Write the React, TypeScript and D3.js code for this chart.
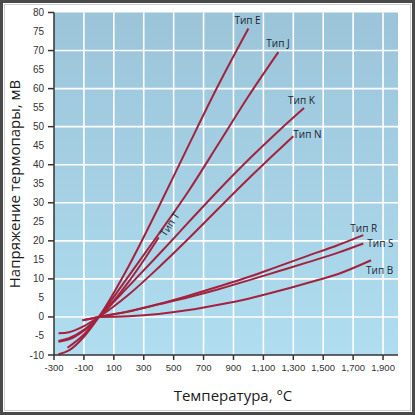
import React from "react";
import * as d3 from "d3";

const xTicks = [-300, -100, 100, 300, 500, 700, 900, 1100, 1300, 1500, 1700, 1900];
const yLabels = [80, 75, 70, 65, 60, 55, 50, 45, 40, 35, 30, 25, 20, 15, 10, 5, 0, -5, -10];
const yMajor = [80, 70, 60, 50, 40, 30, 20, 10, 0, -10];

const tempE = [-270, -200, -100, 0, 200, 400, 600, 800, 1000];
const voltE = [-9.8, -8.8, -5.2, 0, 13.4, 28.9, 45.1, 61.0, 75.8];
const tempJ = [-210, -100, 0, 200, 400, 600, 800, 1000, 1200];
const voltJ = [-8.1, -4.6, 0, 10.8, 21.8, 33.1, 45.5, 58.0, 69.6];
const tempK = [-270, -200, -100, 0, 200, 400, 600, 800, 1000, 1200, 1372];
const voltK = [-6.5, -5.9, -3.6, 0, 8.1, 16.4, 24.9, 33.3, 41.3, 48.8, 54.9];
const tempN = [-270, -200, -100, 0, 200, 400, 600, 800, 1000, 1200, 1300];
const voltN = [-4.3, -4.0, -2.4, 0, 5.9, 13.0, 20.6, 28.5, 36.3, 43.8, 47.5];
const tempT = [-270, -200, -100, 0, 100, 200, 300, 400];
const voltT = [-6.3, -5.6, -3.4, 0, 4.3, 9.3, 14.9, 20.9];
const tempR = [-110, 0, 200, 400, 600, 800, 1000, 1200, 1400, 1600, 1768];
const voltR = [-0.9, 0, 1.5, 3.4, 5.6, 8.0, 10.5, 13.3, 16.1, 18.9, 21.5];
const tempS = [-110, 0, 200, 400, 600, 800, 1000, 1200, 1400, 1600, 1768];
const voltS = [-0.9, 0, 1.4, 3.3, 5.2, 7.3, 9.6, 12.0, 14.4, 16.9, 19.3];
const tempB = [0, 200, 400, 600, 800, 1000, 1200, 1400, 1600, 1820];
const voltB = [0, 0.2, 0.8, 1.8, 3.2, 4.8, 6.8, 9.0, 11.3, 14.9];

const seriesNames = ["Тип E", "Тип J", "Тип K", "Тип N", "Тип T", "Тип R", "Тип S", "Тип B"];
const seriesTemps = [tempE, tempJ, tempK, tempN, tempT, tempR, tempS, tempB];
const seriesVolts = [voltE, voltJ, voltK, voltN, voltT, voltR, voltS, voltB];
// label offsets relative to line end (dx, dy) in px
const labelOffsets: [number, number][] = [
  [-14, -4], [-12, -5], [-16, -4], [0, 2], [0, 0], [-13, -3], [4, 4], [-5, 13.5],
];

const W = 415, H = 415;
const left = 54, right = 398, top = 12.5, bottom = 355;

export default function App() {
  const x = d3.scaleLinear().domain([-300, 2000]).range([left, right]);
  const y = d3.scaleLinear().domain([-10, 80]).range([bottom, top]);
  const line = d3
    .line<[number, number]>()
    .x((d) => x(d[0]))
    .y((d) => y(d[1]))
    .curve(d3.curveMonotoneX);
  const fmt = d3.format(",");
  const labelFont = "'Open Sans', 'Noto Sans', sans-serif";
  const tickFont = "'Liberation Sans', Arial, sans-serif";

  return (
    <svg
      width={W}
      height={H}
      style={{ position: "absolute", left: 0, top: 0, background: "#fff" }}
    >
      <defs>
        <linearGradient id="bg" x1="0" y1="0" x2="0" y2="1">
          <stop offset="0" stopColor="#9bc4d9" />
          <stop offset="1" stopColor="#b0ddf0" />
        </linearGradient>
      </defs>
      <rect x={0} y={0} width={W} height={H} fill="#fff" />
      <rect x={1.5} y={1.5} width={W - 3} height={H - 3} fill="none" stroke="#4a4a4a" strokeWidth={3} />
      <rect x={4.5} y={4.5} width={W - 9} height={H - 9} fill="none" stroke="#cfcfcf" strokeWidth={1} />

      <rect x={left} y={top} width={right - left} height={bottom - top} fill="url(#bg)" />
      {xTicks.slice(1).map((t) => (
        <line key={"gx" + t} x1={x(t)} x2={x(t)} y1={top} y2={bottom} stroke="#fff" strokeWidth={1.6} />
      ))}
      {yMajor.filter((v) => v > -10 && v < 80).map((v) => (
        <line key={"gy" + v} x1={left} x2={right} y1={y(v)} y2={y(v)} stroke="#fff" strokeWidth={1.6} />
      ))}

      {seriesNames.map((name, i) => {
        const pts: [number, number][] = seriesTemps[i].map((t, j) => [t, seriesVolts[i][j]]);
        return (
          <path key={name} d={line(pts) || ""} fill="none" stroke="#a3223d" strokeWidth={2} />
        );
      })}

      {seriesNames.map((name, i) => {
        const ts = seriesTemps[i];
        const vs = seriesVolts[i];
        const n = ts.length - 1;
        const ex = x(ts[n]);
        const ey = y(vs[n]);
        if (name === "Тип T") {
          const px = x(ts[n - 1]);
          const py = y(vs[n - 1]);
          const ang = (Math.atan2(ey - py, ex - px) * 180) / Math.PI;
          return (
            <text
              key={"l" + name}
              transform={`translate(${ex + 4},${ey - 2}) rotate(${ang})`}
              dy="0.35em"
              fontFamily={labelFont}
              fontSize={10}
              fill="#1c2530"
            >
              {name}
            </text>
          );
        }
        const [dx, dy] = labelOffsets[i];
        return (
          <text key={"l" + name} x={ex + dx} y={ey + dy} fontFamily={labelFont} fontSize={10} fill="#1c2530">
            {name}
          </text>
        );
      })}

      <line x1={left} x2={left} y1={top} y2={bottom} stroke="#333" strokeWidth={1.5} />
      <line x1={left} x2={right} y1={bottom} y2={bottom} stroke="#333" strokeWidth={1.5} />
      {yMajor.map((v) => (
        <line key={"ty" + v} x1={left - 6} x2={left} y1={y(v)} y2={y(v)} stroke="#333" strokeWidth={1.5} />
      ))}
      {xTicks.map((t) => (
        <line key={"tx" + t} x1={x(t)} x2={x(t)} y1={bottom} y2={bottom + 5} stroke="#333" strokeWidth={1.5} />
      ))}
      {yLabels.map((v) => (
        <text
          key={"yl" + v}
          x={44}
          y={y(v)}
          dy="0.35em"
          textAnchor="end"
          fontFamily={tickFont}
          fontSize={10}
          fill="#333"
        >
          {String(v)}
        </text>
      ))}
      {xTicks.map((t) => (
        <text
          key={"xl" + t}
          x={x(t)}
          y={371}
          textAnchor="middle"
          fontFamily={tickFont}
          fontSize={9.5}
          fill="#333"
        >
          {fmt(t).replace("−", "-")}
        </text>
      ))}

      <text
        x={233}
        y={401}
        textAnchor="middle"
        fontFamily={labelFont}
        fontSize={15}
        fill="#1a1a1a"
      >
        Температура, °C
      </text>
      <text
        transform={`translate(20,184) rotate(-90)`}
        textAnchor="middle"
        fontFamily={labelFont}
        fontSize={15}
        fill="#1a1a1a"
      >
        Напряжение термопары, мВ
      </text>
    </svg>
  );
}
